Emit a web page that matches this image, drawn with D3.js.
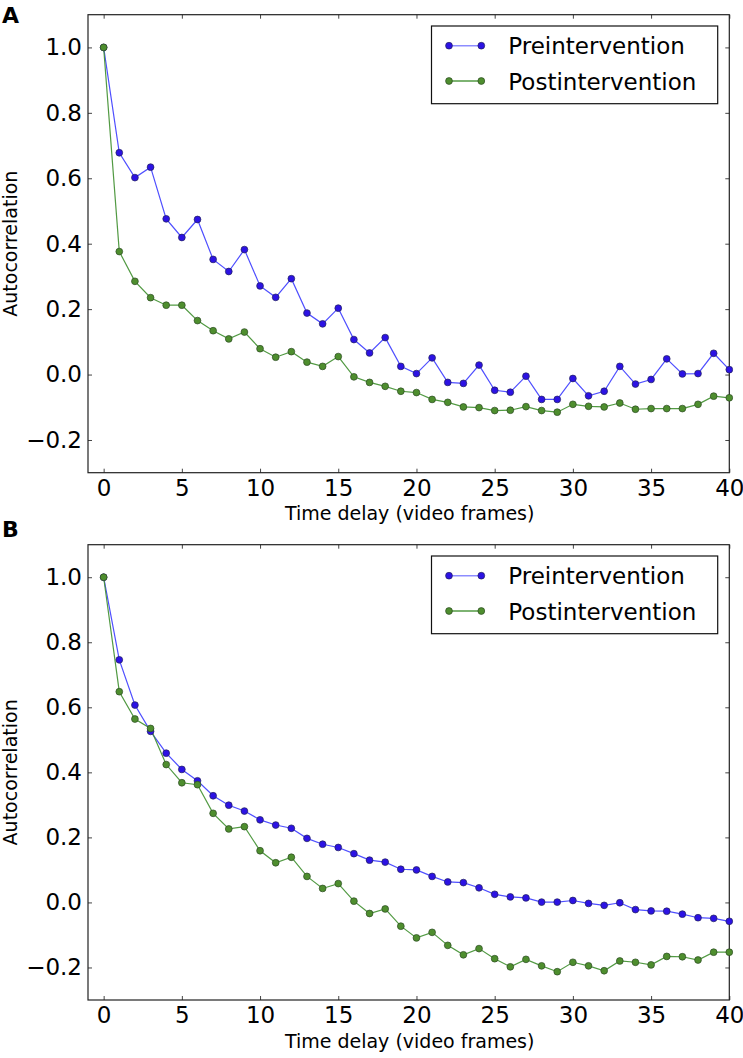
<!DOCTYPE html>
<html><head><meta charset="utf-8">
<script src="https://cdn.jsdelivr.net/npm/d3@7"></script>
<style>
html,body{margin:0;padding:0;background:#fff;}
svg{display:block;font-family:"DejaVu Sans",sans-serif;}
</style></head>
<body><svg id="chart" width="743" height="1058"></svg>
<script>
const lags = d3.range(0, 41);
const seriesNames = ["Preintervention", "Postintervention"];
const xTicks = [0, 5, 10, 15, 20, 25, 30, 35, 40];
const yTicks = [-0.2, 0.0, 0.2, 0.4, 0.6, 0.8, 1.0];
const xLabel = "Time delay (video frames)";
const yLabel = "Autocorrelation";
const panelLabels = ["A", "B"];

const preA = [1.0, 0.678, 0.602, 0.634, 0.476, 0.419, 0.474, 0.352, 0.315, 0.382,
  0.271, 0.236, 0.293, 0.188, 0.155, 0.203, 0.107, 0.066, 0.113, 0.025,
  0.003, 0.051, -0.024, -0.027, 0.029, -0.048, -0.054, -0.005, -0.076, -0.076,
  -0.012, -0.065, -0.051, 0.025, -0.029, -0.015, 0.048, 0.002, 0.003, 0.065, 0.015];
const postA = [1.0, 0.376, 0.285, 0.235, 0.212, 0.212, 0.165, 0.134, 0.109, 0.130,
  0.079, 0.053, 0.070, 0.038, 0.025, 0.055, -0.007, -0.024, -0.036, -0.051,
  -0.055, -0.076, -0.085, -0.099, -0.101, -0.110, -0.109, -0.098, -0.110, -0.115,
  -0.091, -0.097, -0.099, -0.087, -0.106, -0.104, -0.104, -0.104, -0.091, -0.066, -0.071];
const preB = [1.0, 0.746, 0.607, 0.526, 0.459, 0.409, 0.374, 0.328, 0.299, 0.281,
  0.254, 0.238, 0.228, 0.197, 0.179, 0.169, 0.150, 0.130, 0.124, 0.102,
  0.100, 0.080, 0.063, 0.061, 0.045, 0.025, 0.017, 0.014, 0.001, 0.001,
  0.006, -0.003, -0.009, -0.001, -0.022, -0.026, -0.027, -0.036, -0.047, -0.049, -0.058];
const postB = [1.0, 0.648, 0.564, 0.535, 0.424, 0.368, 0.362, 0.274, 0.226, 0.233,
  0.159, 0.122, 0.139, 0.080, 0.043, 0.058, 0.004, -0.034, -0.020, -0.073,
  -0.109, -0.092, -0.132, -0.161, -0.142, -0.173, -0.198, -0.175, -0.195, -0.213,
  -0.184, -0.195, -0.210, -0.180, -0.184, -0.192, -0.166, -0.167, -0.177, -0.153, -0.153];

const styles = [
  {line: "#3030ff", lineOpacity: 0.85, fill: "#2c12e4", stroke: "#23235a"},
  {line: "#3f8f2f", lineOpacity: 0.9, fill: "#4e8e2e", stroke: "#2c4a24"}
];

const svg = d3.select("#chart");
const L = 88, R = 729.3;

function panel(top, bottom, series, label, labelY) {
  const g = svg.append("g");
  const x = d3.scaleLinear().domain([-1, 40]).range([L, R]);
  const y = d3.scaleLinear().domain([-0.3, 1.1]).range([bottom, top]);
  const fmt = d3.format(".1f");

  // axes
  const ax = [
    g.append("g").attr("transform", `translate(0,${bottom})`)
      .call(d3.axisBottom(x).tickValues(xTicks).tickSizeInner(-4).tickSizeOuter(0).tickPadding(7).tickFormat(d3.format("d"))),
    g.append("g").attr("transform", `translate(0,${top})`)
      .call(d3.axisTop(x).tickValues(xTicks).tickSizeInner(-4).tickSizeOuter(0).tickFormat("")),
    g.append("g").attr("transform", `translate(${L},0)`)
      .call(d3.axisLeft(y).tickValues(yTicks).tickSizeInner(-4).tickSizeOuter(0).tickPadding(6).tickFormat(fmt)),
    g.append("g").attr("transform", `translate(${R},0)`)
      .call(d3.axisRight(y).tickValues(yTicks).tickSizeInner(-4).tickSizeOuter(0).tickFormat(""))
  ];
  ax.forEach(a => {
    a.select(".domain").remove();
    a.selectAll(".tick line").attr("stroke", "#444").attr("stroke-width", 1);
    a.selectAll(".tick text").attr("font-size", 23).attr("fill", "#000")
      .attr("font-family", "DejaVu Sans, sans-serif");
  });
  g.append("rect").attr("x", L).attr("y", top).attr("width", R - L).attr("height", bottom - top)
    .attr("fill", "none").attr("stroke", "#222").attr("stroke-width", 1.2);

  const line = d3.line().x((d, i) => x(lags[i])).y(d => y(d));
  const clip = "clip" + label;
  g.append("clipPath").attr("id", clip).append("rect")
    .attr("x", L).attr("y", top).attr("width", R - L + 4).attr("height", bottom - top);
  const plot = g.append("g").attr("clip-path", `url(#${clip})`);
  series.forEach((s, k) => {
    plot.append("path").datum(s).attr("d", line).attr("fill", "none")
      .attr("stroke", styles[k].line).attr("stroke-opacity", styles[k].lineOpacity).attr("stroke-width", 1.2);
  });
  series.forEach((s, k) => {
    plot.selectAll(null).data(s).enter().append("circle")
      .attr("cx", (d, i) => x(lags[i])).attr("cy", d => y(d)).attr("r", 3.4)
      .attr("fill", styles[k].fill).attr("stroke", styles[k].stroke).attr("stroke-width", 0.7);
  });

  // legend
  const lg = g.append("g");
  lg.append("rect").attr("x", 431.5).attr("y", top + 11.3).attr("width", 286.2).attr("height", 77.7)
    .attr("fill", "#fff").attr("stroke", "#111").attr("stroke-width", 1.2);
  seriesNames.forEach((n, k) => {
    const ry = top + 31 + k * 35.3;
    lg.append("line").attr("x1", 449).attr("x2", 481.3).attr("y1", ry).attr("y2", ry)
      .attr("stroke", styles[k].line).attr("stroke-opacity", k === 0 ? 0.55 : 0.9).attr("stroke-width", 1.4);
    [449, 481.3].forEach(cx => lg.append("circle").attr("cx", cx).attr("cy", ry).attr("r", 3.4)
      .attr("fill", styles[k].fill).attr("stroke", styles[k].stroke).attr("stroke-width", 0.7));
    lg.append("text").attr("x", 508.3).attr("y", ry + 8.6).attr("font-size", 23).text(n);
  });

  // axis labels
  g.append("text").attr("x", (L + R) / 2 + 1).attr("y", bottom + 47.5).attr("text-anchor", "middle")
    .attr("font-size", 19).text(xLabel);
  g.append("text").attr("transform", `translate(16.5,${(top + bottom) / 2}) rotate(-90)`)
    .attr("text-anchor", "middle").attr("font-size", 19).text(yLabel);
  g.append("text").attr("x", 2).attr("y", labelY).attr("font-size", 22).attr("font-weight", "bold").text(label);
}

panel(14.7, 472.7, [preA, postA], panelLabels[0], 22.7);
panel(544.7, 1000, [preB, postB], panelLabels[1], 537);
</script></body></html>
